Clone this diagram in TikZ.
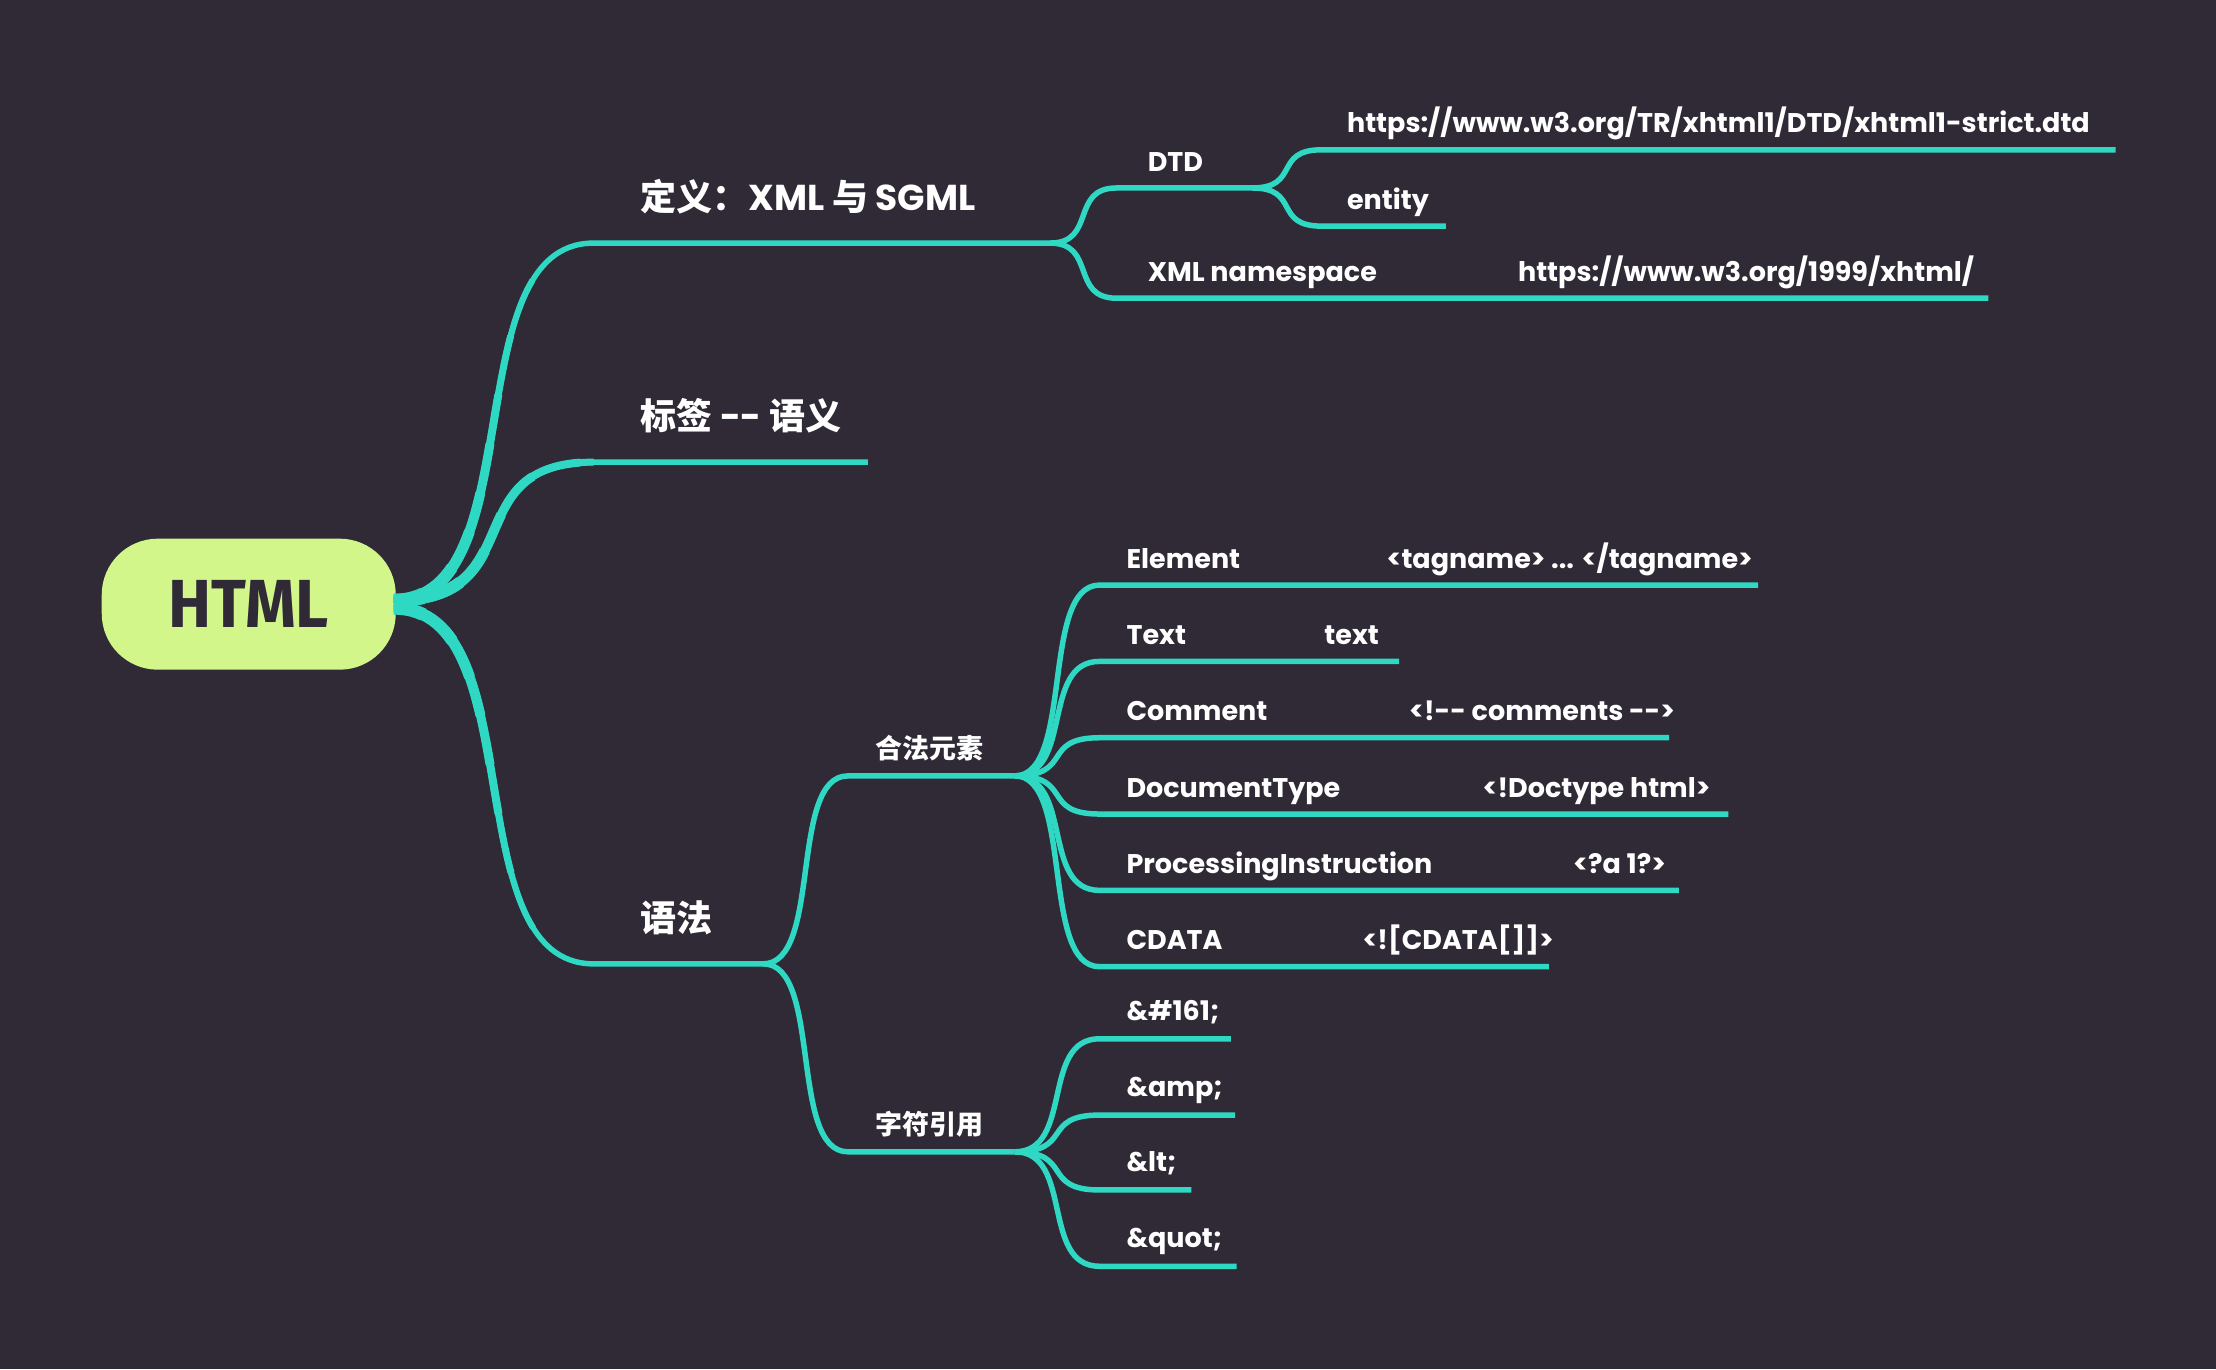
\documentclass[tikz,border=0pt]{standalone}
\usepackage{fontspec}
\usetikzlibrary{calc}
\setmainfont{Poppins}
\newfontfamily\cjk{Noto Sans CJK SC}
\newfontfamily\rootfont[FakeStretch=0.95]{Fira Sans}
\definecolor{bgdark}{HTML}{2F2A35}
\definecolor{mint}{HTML}{2FD8C3}
\definecolor{lime}{HTML}{D3F68A}
\tikzset{
  twig/.style={draw=mint, line width=5.5pt},
  curvy/.style={to path={let \p1=(\tikztostart), \p2=(\tikztotarget) in
    .. controls ({0.3*\x1+0.7*\x2},\y1) and ({0.7*\x1+0.3*\x2},\y2) .. (\tikztotarget)}},
  rootbox/.style={fill=lime, rounded corners=56pt, minimum width=294pt, minimum height=131pt,
    font=\rootfont\bfseries\fontsize{68}{68}\selectfont, text=bgdark},
  lvlA/.style={anchor=base west, inner sep=0pt, text=white, font=\bfseries\fontsize{36}{36}\selectfont},
  lvlB/.style={anchor=base west, inner sep=0pt, text=white, font=\bfseries\fontsize{27}{27}\selectfont},
}
\begin{document}
\begin{tikzpicture}[x=1.41327pt, y=-1.41327pt]
\fill[bgdark] (0,0) rectangle (1568,969);
\useasboundingbox (0,0) rectangle (1568,969);
% root
\node[rootbox] (P_0_0) at (176,427.5) {HTML};
\coordinate (R_a) at ([xshift=-2pt, yshift=4pt]P_0_0.east);
\coordinate (R_b) at ([xshift=-2pt, yshift=-4pt]P_0_0.east);
% level 1
\coordinate (S_1_0) at (420,172); \coordinate (E_1_0) at (743,172);
\node[lvlA] (P_1_0) at (453,149) {{\cjk 定义：}XML {\cjk 与} SGML};
\coordinate (S_1_1) at (420,327); \coordinate (E_1_1) at (614,327);
\node[lvlA] (P_1_1) at (453,304) {{\cjk 标签} {-}{-} {\cjk 语义}};
\coordinate (S_1_2) at (420,682); \coordinate (E_1_2) at (540,682);
\node[lvlA] (P_1_2) at (453,659) {\cjk 语法};
\foreach \s/\t/\e in {R_a/S_1_0/E_1_0, R_a/S_1_1/E_1_1, R_b/S_1_2/E_1_2} {
  \draw[twig] (\s) to[curvy] (\t) -- (\e);
  \foreach \w/\l in {13/30, 12/70, 11/110, 10/150, 9/200, 8/250, 7/310, 6.2/370}
    \draw[twig, line width=\w pt, dash pattern=on \l pt off 2000pt] (\s) to[curvy] (\t);
}
% definition
\coordinate (S_2_0) at (790,133); \coordinate (E_2_0) at (886,133);
\node[lvlB] (P_2_0) at (812,121) {DTD};
\draw[twig] (E_1_0) to[curvy] (S_2_0) -- (E_2_0);
\coordinate (S_2_1) at (790,211); \coordinate (E_2_1) at (1407,211);
\node[lvlB] (P_2_1) at (812,199) {XML namespace};
\node[lvlB] (P_3_2) at (1074,199) {https://www.w3.org/1999/xhtml/};
\draw[twig] (E_1_0) to[curvy] (S_2_1) -- (E_2_1);
\coordinate (S_3_0) at (935,106); \coordinate (E_3_0) at (1497,106);
\node[lvlB] (P_3_0) at (953,94) {https://www.w3.org/TR/xhtml1/DTD/xhtml1-strict.dtd};
\draw[twig] (E_2_0) to[curvy] (S_3_0) -- (E_3_0);
\coordinate (S_3_1) at (935,160); \coordinate (E_3_1) at (1023,160);
\node[lvlB] (P_3_1) at (953,148) {entity};
\draw[twig] (E_2_0) to[curvy] (S_3_1) -- (E_3_1);
% syntax
\coordinate (S_2_2) at (600,549); \coordinate (E_2_2) at (718,549);
\node[lvlB] (P_2_2) at (619,537) {\cjk 合法元素};
\draw[twig] (E_1_2) to[curvy] (S_2_2) -- (E_2_2);
\coordinate (S_2_3) at (600,815); \coordinate (E_2_3) at (718,815);
\node[lvlB] (P_2_3) at (619,803) {\cjk 字符引用};
\draw[twig] (E_1_2) to[curvy] (S_2_3) -- (E_2_3);
% elements
\coordinate (S_3_3) at (778,414); \coordinate (E_3_3) at (1244,414);
\node[lvlB] (P_3_3) at (797,402) {Element};
\node[lvlB] (P_4_0) at (981,402) {<tagname> ... </tagname>};
\draw[twig] (E_2_2) to[curvy] (S_3_3) -- (E_3_3);
\coordinate (S_3_4) at (778,468); \coordinate (E_3_4) at (990,468);
\node[lvlB] (P_3_4) at (797,456) {Text};
\node[lvlB] (P_4_1) at (937,456) {text};
\draw[twig] (E_2_2) to[curvy] (S_3_4) -- (E_3_4);
\coordinate (S_3_5) at (778,522); \coordinate (E_3_5) at (1181,522);
\node[lvlB] (P_3_5) at (797,510) {Comment};
\node[lvlB] (P_4_2) at (997,510) {<!{-}{-} comments {-}{-}>};
\draw[twig] (E_2_2) to[curvy] (S_3_5) -- (E_3_5);
\coordinate (S_3_6) at (778,576); \coordinate (E_3_6) at (1223,576);
\node[lvlB] (P_3_6) at (797,564) {DocumentType};
\node[lvlB] (P_4_3) at (1049,564) {<!Doctype html>};
\draw[twig] (E_2_2) to[curvy] (S_3_6) -- (E_3_6);
\coordinate (S_3_7) at (778,630); \coordinate (E_3_7) at (1188,630);
\node[lvlB] (P_3_7) at (797,618) {ProcessingInstruction};
\node[lvlB] (P_4_4) at (1113,618) {<?a 1?>};
\draw[twig] (E_2_2) to[curvy] (S_3_7) -- (E_3_7);
\coordinate (S_3_8) at (778,684); \coordinate (E_3_8) at (1096,684);
\node[lvlB] (P_3_8) at (797,672) {CDATA};
\node[lvlB] (P_4_5) at (964,672) {<![CDATA[]]>};
\draw[twig] (E_2_2) to[curvy] (S_3_8) -- (E_3_8);
% character references
\coordinate (S_3_9) at (778,735); \coordinate (E_3_9) at (871,735);
\node[lvlB] (P_3_9) at (797,722) {\&\#161;};
\draw[twig] (E_2_3) to[curvy] (S_3_9) -- (E_3_9);
\coordinate (S_3_10) at (778,789); \coordinate (E_3_10) at (874,789);
\node[lvlB] (P_3_10) at (797,776) {\&amp;};
\draw[twig] (E_2_3) to[curvy] (S_3_10) -- (E_3_10);
\coordinate (S_3_11) at (778,842); \coordinate (E_3_11) at (843,842);
\node[lvlB] (P_3_11) at (797,829) {\&lt;};
\draw[twig] (E_2_3) to[curvy] (S_3_11) -- (E_3_11);
\coordinate (S_3_12) at (778,896); \coordinate (E_3_12) at (875,896);
\node[lvlB] (P_3_12) at (797,883) {\&quot;};
\draw[twig] (E_2_3) to[curvy] (S_3_12) -- (E_3_12);
\end{tikzpicture}
\end{document}
